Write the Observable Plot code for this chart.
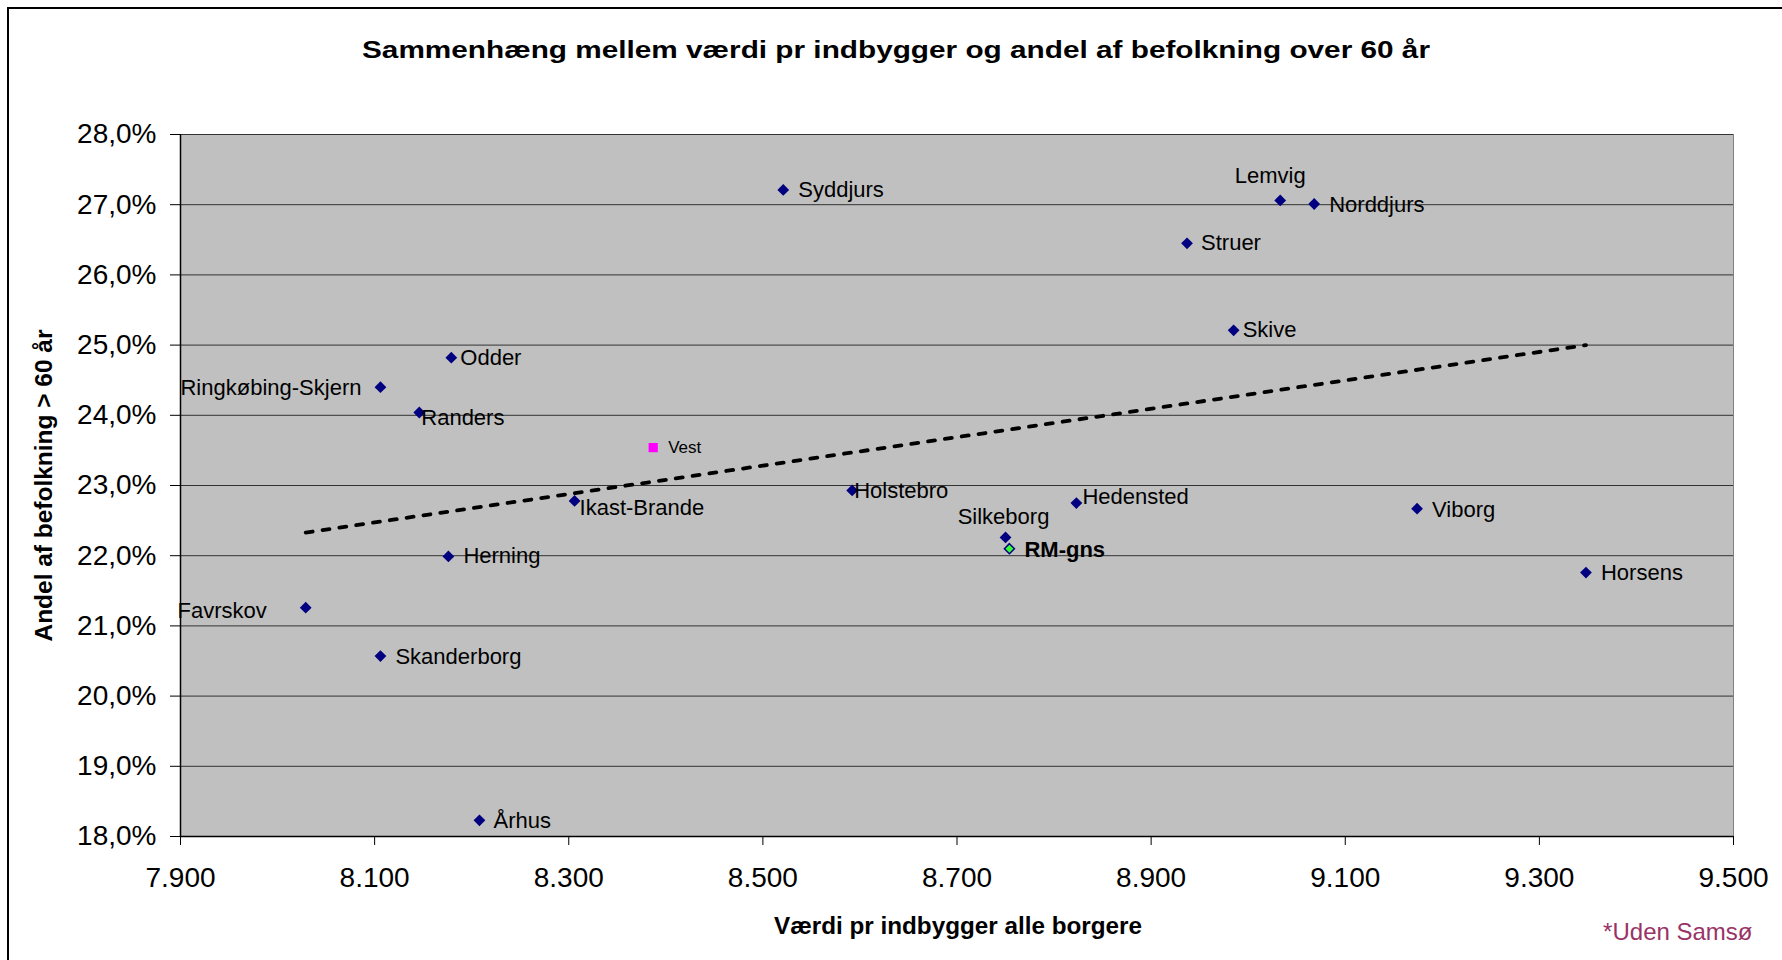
<!DOCTYPE html>
<html>
<head>
<meta charset="utf-8">
<script src="https://cdn.jsdelivr.net/npm/d3@7"></script>
<script src="https://cdn.jsdelivr.net/npm/@observablehq/plot@0.6"></script>
<style>
  html, body { margin: 0; padding: 0; background: #fff; }
  #wrap { position: relative; width: 1782px; height: 960px; overflow: hidden; font-family: Arial, "Liberation Sans", sans-serif; }
  #border { position: absolute; left: 7px; top: 7px; width: 1800px; height: 1000px; border-left: 2px solid #000; border-top: 2px solid #000; }
  #chart { position: absolute; left: 0; top: 0; }
</style>
</head>
<body>
<div id="wrap"><div id="border"></div><div id="chart"></div></div>
<script>
// ---- Data ----
const municipalities = ["Syddjurs","Lemvig","Norddjurs","Struer","Skive","Odder","Ringkøbing-Skjern","Randers","Ikast-Brande","Holstebro","Silkeborg","Hedensted","Viborg","Horsens","Herning","Favrskov","Skanderborg","Århus"];
const valuePerCitizen = [8521, 9033, 9068, 8937, 8985, 8179, 8106, 8146, 8306, 8592, 8750, 8823, 9174, 9348, 8176, 8029, 8106, 8208];
const shareOver60 = [27.21, 27.06, 27.01, 26.45, 25.21, 24.82, 24.40, 24.04, 22.78, 22.93, 22.26, 22.75, 22.67, 21.76, 21.99, 21.26, 20.57, 18.23];

const vestName = "Vest";
const vestValue = 8387;
const vestShare = 23.54;

const avgName = "RM-gns";
const avgValue = 8754;
const avgShare = 22.10;

// linear trend line (at its two ends)
const trendValue = [8029, 9348];
const trendShare = [22.33, 25.00];

const xTicks = [7900, 8100, 8300, 8500, 8700, 8900, 9100, 9300, 9500];
const yTicks = [18, 19, 20, 21, 22, 23, 24, 25, 26, 27, 28];

const titleText = "Sammenhæng mellem værdi pr indbygger og andel af befolkning over 60 år";
const xLabel = "Værdi pr indbygger alle borgere";
const yLabel = "Andel af befolkning > 60 år";
const noteText = "*Uden Samsø";

// label placement (style only): [dx, dy, anchor]
const labelPlacement = {
  "Syddjurs": [15, 0, "start"],
  "Lemvig": [-10, -25, "middle"],
  "Norddjurs": [15, 1, "start"],
  "Struer": [14, 0, "start"],
  "Skive": [9, 0, "start"],
  "Odder": [9, 0, "start"],
  "Ringkøbing-Skjern": [-19, 1, "end"],
  "Randers": [2, 5, "start"],
  "Ikast-Brande": [5, 7, "start"],
  "Holstebro": [2, 1, "start"],
  "Silkeborg": [-2, -20, "middle"],
  "Hedensted": [6, -6, "start"],
  "Viborg": [15, 1, "start"],
  "Horsens": [15, 0, "start"],
  "Herning": [15, 0, "start"],
  "Favrskov": [-39, 3, "end"],
  "Skanderborg": [15, 1, "start"],
  "Århus": [14, 1, "start"]
};

// ---- Build ----
const rows = municipalities.map((name, i) => ({name, v: valuePerCitizen[i], s: shareOver60[i]}));
const vestRow = [{name: vestName, v: vestValue, s: vestShare}];
const avgRow = [{name: avgName, v: avgValue, s: avgShare}];
const trendRows = trendValue.map((v, i) => ({v, s: trendShare[i]}));

const locale = d3.formatLocale({decimal: ",", thousands: ".", grouping: [3], currency: ["", ""]});
const fmtX = locale.format(",");
const fmtY = d => d.toFixed(1).replace(".", ",") + "%";

const font = "Arial, 'Liberation Sans', sans-serif";

const labelMarks = rows.map(r => {
  const [dx, dy, anchor] = labelPlacement[r.name];
  return Plot.text([r], {x: "v", y: "s", text: "name", dx, dy, textAnchor: anchor, lineAnchor: "middle", fontSize: 22, fill: "#000"});
});

const chart = Plot.plot({
  width: 1782,
  height: 960,
  marginLeft: 180,
  marginRight: 49,
  marginTop: 134,
  marginBottom: 124,
  style: {fontFamily: font, background: "transparent", overflow: "visible", color: "#000"},
  x: {domain: [7900, 9500]},
  y: {domain: [18, 28]},
  marks: [
    Plot.frame({fill: "#C0C0C0", stroke: "#808080"}),
    Plot.ruleY(yTicks, {stroke: "#333", strokeWidth: 1}),
    Plot.ruleX([7900], {stroke: "#000", strokeWidth: 1.5}),
    Plot.ruleY([18], {stroke: "#000", strokeWidth: 1.5}),
    Plot.axisX(xTicks, {tickFormat: fmtX, tickSize: 9, tickPadding: 22, fontSize: 28, label: null}),
    Plot.axisY(yTicks, {tickFormat: fmtY, tickSize: 10, tickPadding: 14, fontSize: 28, label: null}),
    Plot.line(trendRows, {x: "v", y: "s", stroke: "#000", strokeWidth: 3.8, strokeDasharray: "7 10"}),
    Plot.dot(rows, {x: "v", y: "s", symbol: "diamond2", r: 5.3, fill: "#000080", stroke: "none"}),
    Plot.dot(vestRow, {x: "v", y: "s", symbol: "square", r: 5.2, fill: "#FF00FF", stroke: "none"}),
    Plot.dot(avgRow, {x: "v", y: "s", symbol: "diamond2", r: 4.5, fill: "#33FF33", stroke: "#000080", strokeWidth: 1.5}),
    ...labelMarks,
    Plot.text(vestRow, {x: "v", y: "s", text: "name", dx: 15, textAnchor: "start", lineAnchor: "middle", fontSize: 17, fill: "#000"}),
    Plot.text(avgRow, {x: "v", y: "s", text: "name", dx: 15, dy: 1, textAnchor: "start", lineAnchor: "middle", fontSize: 22, fontWeight: "bold", fill: "#000"}),
    Plot.text([titleText], {frameAnchor: "top", dx: -61, dy: -84, lineAnchor: "middle", fontSize: 24, fontWeight: "bold", fill: "#000"}),
    Plot.text([xLabel], {frameAnchor: "bottom", dx: 1, dy: 90, lineAnchor: "middle", fontSize: 23, fontWeight: "bold", fill: "#000"}),
    Plot.text([yLabel], {frameAnchor: "left", dx: -136, dy: 0, rotate: -90, textAnchor: "middle", lineAnchor: "middle", fontSize: 23, fontWeight: "bold", fill: "#000"}),
    Plot.text([noteText], {frameAnchor: "bottom-right", dx: 19, dy: 96, textAnchor: "end", lineAnchor: "middle", fontSize: 24, fill: "#993366"})
  ]
});

// the original's headings are drawn horizontally stretched
const stretch = {[titleText]: 1068, [xLabel]: 368, [yLabel]: 312};
chart.querySelectorAll("text").forEach(t => {
  const w = stretch[t.textContent];
  if (w) { t.setAttribute("textLength", w); t.setAttribute("lengthAdjust", "spacingAndGlyphs"); }
});

document.getElementById("chart").appendChild(chart);
</script>
</body>
</html>
